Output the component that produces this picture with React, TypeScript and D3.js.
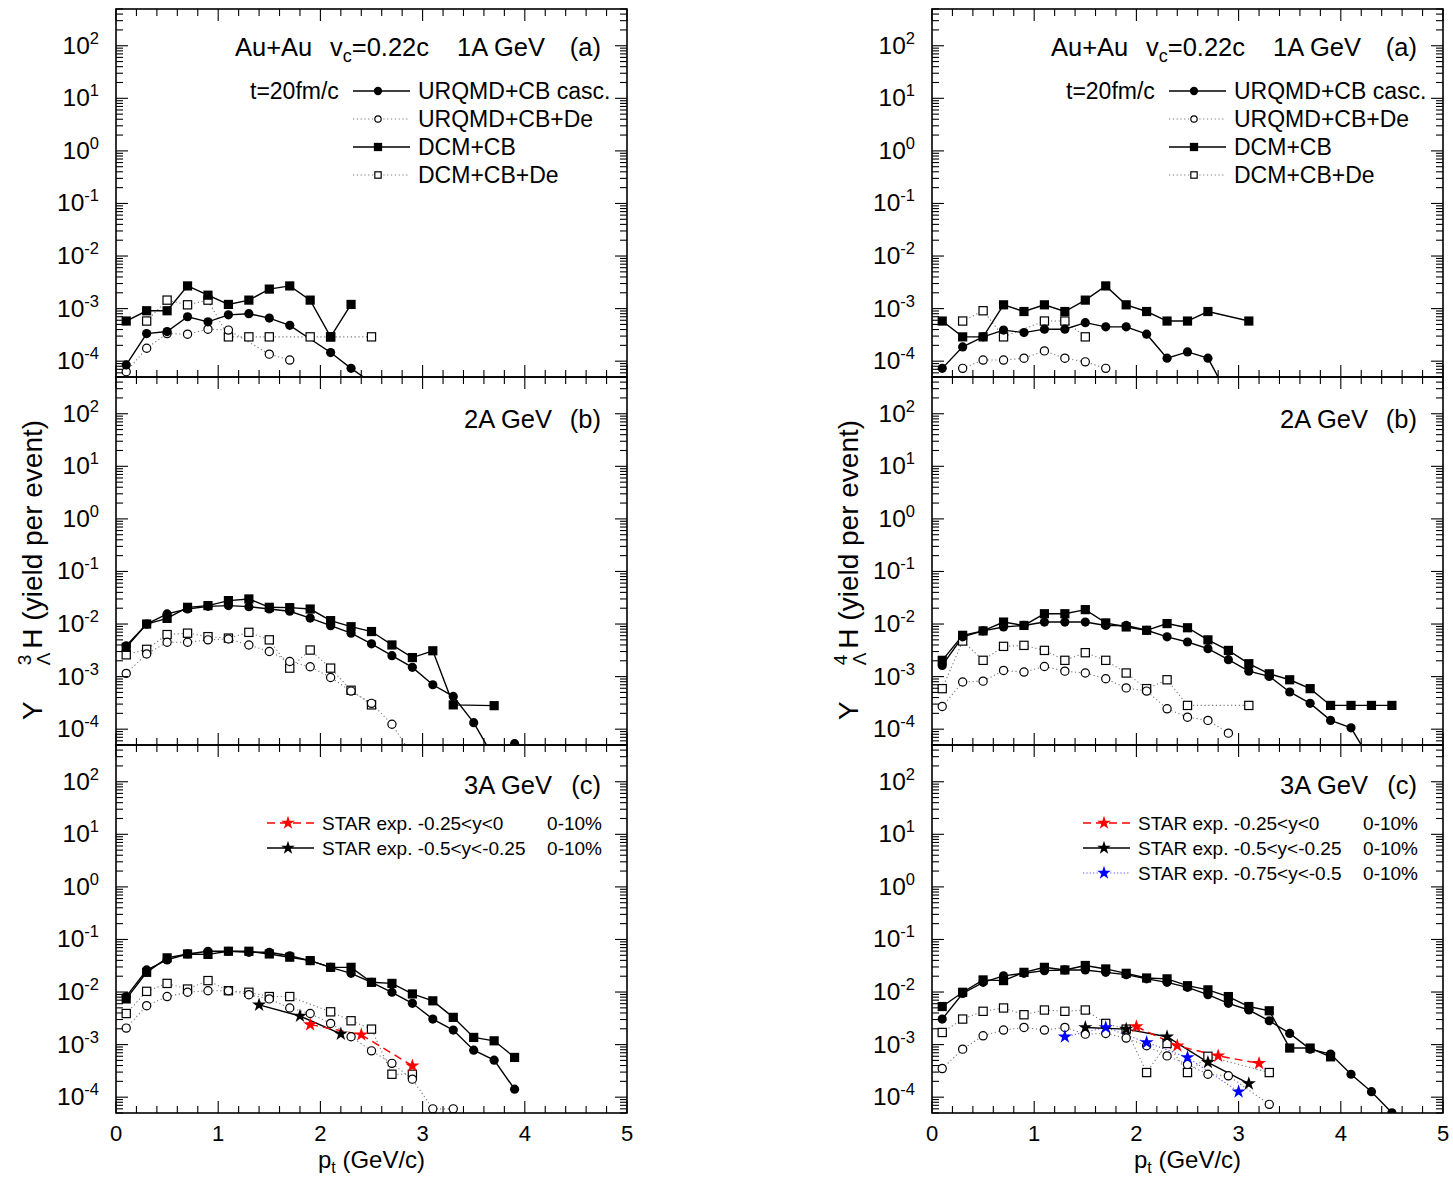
import React from "react";
import * as d3 from "d3";

type Pt = [number, number];

// ---------- 3ΛH (left column) ----------
// 1A GeV
const h3a_urqmd: Pt[] = [[0.1, 8.5e-5], [0.3, 3.35e-4], [0.5, 3.66e-4], [0.7, 7.0e-4], [0.9, 5.6e-4], [1.1, 7.6e-4], [1.3, 8.0e-4], [1.5, 6.6e-4], [1.7, 4.8e-4], [2.1, 1.46e-4], [2.3, 7.3e-5], [2.5, 3.9e-5]];
const h3a_urqmdDe: Pt[] = [[0.1, 6.3e-5], [0.3, 1.76e-4], [0.5, 3.35e-4], [0.7, 3.26e-4], [0.9, 4.06e-4], [1.1, 3.9e-4], [1.5, 1.36e-4], [1.7, 1.05e-4]];
const h3a_dcm: Pt[] = [[0.1, 5.8e-4], [0.3, 9.1e-4], [0.5, 9.1e-4], [0.7, 2.7e-3], [0.9, 1.8e-3], [1.1, 1.2e-3], [1.3, 1.45e-3], [1.5, 2.35e-3], [1.7, 2.7e-3], [1.9, 1.45e-3], [2.1, 2.9e-4], [2.3, 1.2e-3]];
const h3a_dcmDe: Pt[] = [[0.3, 5.8e-4], [0.5, 1.45e-3], [0.7, 1.18e-3], [0.9, 1.45e-3], [1.1, 2.9e-4], [1.3, 2.9e-4], [1.5, 2.9e-4], [1.9, 2.9e-4], [2.1, 2.9e-4], [2.5, 2.9e-4]];
// 2A GeV
const h3b_urqmd: Pt[] = [[0.1, 3.86e-3], [0.3, 1.0e-2], [0.5, 1.56e-2], [0.7, 1.93e-2], [0.9, 2.17e-2], [1.1, 2.24e-2], [1.3, 2.14e-2], [1.5, 1.93e-2], [1.7, 1.75e-2], [1.9, 1.3e-2], [2.1, 9.3e-3], [2.3, 6.7e-3], [2.5, 4.2e-3], [2.7, 2.5e-3], [2.9, 1.5e-3], [3.1, 7.0e-4], [3.3, 4.2e-4], [3.5, 1.33e-4], [3.7, 2.8e-5], [3.9, 5.3e-5]];
const h3b_urqmdDe: Pt[] = [[0.1, 1.15e-3], [0.3, 2.7e-3], [0.5, 4.5e-3], [0.7, 4.5e-3], [0.9, 5.0e-3], [1.1, 5.2e-3], [1.3, 4.0e-3], [1.5, 3.0e-3], [1.7, 1.94e-3], [1.9, 1.54e-3], [2.1, 9.6e-4], [2.3, 5.3e-4], [2.5, 3.1e-4], [2.7, 1.24e-4], [2.9, 3.1e-5]];
const h3b_dcm: Pt[] = [[0.1, 3.6e-3], [0.3, 1.0e-2], [0.5, 1.28e-2], [0.7, 2.08e-2], [0.9, 2.24e-2], [1.1, 2.79e-2], [1.3, 3.0e-2], [1.5, 2.08e-2], [1.7, 2.05e-2], [1.9, 1.93e-2], [2.1, 1.16e-2], [2.3, 8.9e-3], [2.5, 7.2e-3], [2.7, 4.0e-3], [2.9, 2.3e-3], [3.1, 3.1e-3], [3.3, 2.9e-4], [3.7, 2.8e-4]];
const h3b_dcmDe: Pt[] = [[0.1, 2.6e-3], [0.3, 3.3e-3], [0.5, 6.3e-3], [0.7, 6.7e-3], [0.9, 5.75e-3], [1.1, 5.4e-3], [1.3, 6.95e-3], [1.5, 5.0e-3], [1.7, 1.45e-3], [1.9, 3.2e-3], [2.1, 1.45e-3], [2.3, 5.5e-4], [2.5, 2.9e-4]];
// 3A GeV
const h3c_urqmd: Pt[] = [[0.1, 8.2e-3], [0.3, 2.63e-2], [0.5, 4.08e-2], [0.7, 5.3e-2], [0.9, 5.97e-2], [1.1, 5.97e-2], [1.3, 5.7e-2], [1.5, 5.7e-2], [1.7, 4.9e-2], [1.9, 3.96e-2], [2.1, 2.95e-2], [2.3, 2.27e-2], [2.5, 1.53e-2], [2.7, 9.9e-3], [2.9, 6.1e-3], [3.1, 3.06e-3], [3.3, 1.89e-3], [3.5, 7.85e-4], [3.7, 5.06e-4], [3.9, 1.42e-4]];
const h3c_urqmdDe: Pt[] = [[0.1, 2.06e-3], [0.3, 5.5e-3], [0.5, 8.2e-3], [0.7, 9.9e-3], [0.9, 1.06e-2], [1.1, 1.06e-2], [1.3, 8.9e-3], [1.5, 7.4e-3], [1.7, 4.97e-3], [1.9, 3.9e-3], [2.1, 2.53e-3], [2.3, 1.41e-3], [2.5, 7.6e-4], [2.7, 4.4e-4], [2.9, 2.2e-4], [3.1, 6.0e-5], [3.3, 6.0e-5]];
const h3c_dcm: Pt[] = [[0.1, 7.4e-3], [0.3, 2.37e-2], [0.5, 4.47e-2], [0.7, 5.3e-2], [0.9, 5.2e-2], [1.1, 5.97e-2], [1.3, 5.97e-2], [1.5, 5.3e-2], [1.7, 4.6e-2], [1.9, 3.96e-2], [2.1, 2.95e-2], [2.3, 2.95e-2], [2.5, 1.53e-2], [2.7, 1.46e-2], [2.9, 9.2e-3], [3.1, 6.8e-3], [3.3, 3.3e-3], [3.5, 1.37e-3], [3.7, 1.18e-3], [3.9, 5.7e-4]];
const h3c_dcmDe: Pt[] = [[0.1, 3.9e-3], [0.3, 1.03e-2], [0.5, 1.46e-2], [0.7, 1.14e-2], [0.9, 1.65e-2], [1.1, 1.06e-2], [1.3, 9.9e-3], [1.5, 8.2e-3], [1.7, 8.2e-3], [2.1, 4.2e-3], [2.3, 2.84e-3], [2.5, 1.97e-3], [2.7, 2.73e-4], [2.9, 2.73e-4]];
const h3c_starMid: Pt[] = [[1.9, 2.4e-3], [2.4, 1.54e-3], [2.9, 3.95e-4]];
const h3c_starBack: Pt[] = [[1.4, 5.7e-3], [1.8, 3.5e-3], [2.2, 1.6e-3]];

// ---------- 4ΛH (right column) ----------
// 1A GeV
const h4a_urqmd: Pt[] = [[0.1, 7.3e-5], [0.3, 1.87e-4], [0.5, 2.9e-4], [0.7, 3.9e-4], [0.9, 3.5e-4], [1.1, 4.06e-4], [1.3, 4.06e-4], [1.5, 5.4e-4], [1.7, 4.5e-4], [1.9, 4.5e-4], [2.1, 3.26e-4], [2.3, 1.14e-4], [2.5, 1.5e-4], [2.7, 1.14e-4], [2.9, 2.2e-5]];
const h4a_urqmdDe: Pt[] = [[0.3, 7.3e-5], [0.5, 1.05e-4], [0.7, 1.05e-4], [0.9, 1.14e-4], [1.1, 1.57e-4], [1.3, 1.14e-4], [1.5, 9.7e-5], [1.7, 7.3e-5]];
const h4a_dcm: Pt[] = [[0.1, 5.8e-4], [0.3, 2.9e-4], [0.5, 2.9e-4], [0.7, 1.18e-3], [0.9, 8.8e-4], [1.1, 1.18e-3], [1.3, 8.8e-4], [1.5, 1.45e-3], [1.7, 2.7e-3], [1.9, 1.18e-3], [2.1, 8.8e-4], [2.3, 5.8e-4], [2.5, 5.8e-4], [2.7, 8.8e-4], [3.1, 5.8e-4]];
const h4a_dcmDe: Pt[] = [[0.3, 5.8e-4], [0.5, 9.1e-4], [0.7, 2.9e-4], [1.1, 5.8e-4], [1.3, 5.8e-4], [1.5, 2.9e-4]];
// 2A GeV
const h4b_urqmd: Pt[] = [[0.1, 1.63e-3], [0.3, 5.7e-3], [0.5, 7.4e-3], [0.7, 8.8e-3], [0.9, 9.4e-3], [1.1, 1.09e-2], [1.3, 1.09e-2], [1.5, 1.09e-2], [1.7, 9.4e-3], [1.9, 9.4e-3], [2.1, 7.6e-3], [2.3, 5.7e-3], [2.5, 4.55e-3], [2.7, 3.4e-3], [2.9, 2.1e-3], [3.1, 1.27e-3], [3.3, 1.01e-3], [3.5, 5.1e-4], [3.7, 3.1e-4], [3.9, 1.47e-4], [4.1, 1.06e-4], [4.3, 2.4e-5]];
const h4b_urqmdDe: Pt[] = [[0.1, 2.7e-4], [0.3, 7.9e-4], [0.5, 8.2e-4], [0.7, 1.31e-3], [0.9, 1.22e-3], [1.1, 1.56e-3], [1.3, 1.27e-3], [1.5, 1.17e-3], [1.7, 9.1e-4], [1.9, 6.1e-4], [2.1, 5.3e-4], [2.3, 2.44e-4], [2.5, 1.69e-4], [2.7, 1.47e-4], [2.9, 8.4e-5]];
const h4b_dcm: Pt[] = [[0.1, 2.04e-3], [0.3, 6.1e-3], [0.5, 7.4e-3], [0.7, 1.09e-2], [0.9, 9.4e-3], [1.1, 1.57e-2], [1.3, 1.57e-2], [1.5, 1.88e-2], [1.7, 1.05e-2], [1.9, 8.8e-3], [2.1, 7.6e-3], [2.3, 1.02e-2], [2.5, 8.5e-3], [2.7, 5.0e-3], [2.9, 3.15e-3], [3.1, 1.76e-3], [3.3, 1.13e-3], [3.5, 8.7e-4], [3.7, 5.9e-4], [3.9, 2.83e-4], [4.1, 2.83e-4], [4.3, 2.83e-4], [4.5, 2.83e-4]];
const h4b_dcmDe: Pt[] = [[0.1, 5.9e-4], [0.3, 4.75e-3], [0.5, 2.04e-3], [0.7, 3.76e-3], [0.9, 3.93e-3], [1.1, 3.15e-3], [1.3, 2.04e-3], [1.5, 2.85e-3], [1.7, 2.04e-3], [1.9, 1.17e-3], [2.1, 5.9e-4], [2.3, 8.7e-4], [2.5, 2.83e-4], [3.1, 2.83e-4]];
// 3A GeV
const h4c_urqmd: Pt[] = [[0.1, 3.06e-3], [0.3, 9.4e-3], [0.5, 1.53e-2], [0.7, 2.03e-2], [0.9, 2.27e-2], [1.1, 2.55e-2], [1.3, 2.63e-2], [1.5, 2.63e-2], [1.7, 2.37e-2], [1.9, 2.14e-2], [2.1, 1.78e-2], [2.3, 1.53e-2], [2.5, 1.23e-2], [2.7, 8.9e-3], [2.9, 6.1e-3], [3.1, 4.55e-3], [3.3, 2.84e-3], [3.5, 1.63e-3], [3.7, 8.2e-4], [3.9, 6.6e-4], [4.1, 2.73e-4], [4.3, 1.27e-4], [4.5, 5.06e-5]];
const h4c_urqmdDe: Pt[] = [[0.1, 3.5e-4], [0.3, 8.2e-4], [0.5, 1.47e-3], [0.7, 1.89e-3], [0.9, 2.12e-3], [1.1, 1.89e-3], [1.3, 2.12e-3], [1.5, 1.58e-3], [1.7, 1.63e-3], [1.9, 1.33e-3], [2.1, 9.5e-4], [2.3, 6.1e-4], [2.5, 4.2e-4], [2.7, 2.73e-4], [2.9, 2.55e-4], [3.3, 7.3e-5]];
const h4c_dcm: Pt[] = [[0.1, 5.3e-3], [0.3, 9.9e-3], [0.5, 1.7e-2], [0.7, 1.65e-2], [0.9, 2.37e-2], [1.1, 2.95e-2], [1.3, 2.63e-2], [1.5, 3.2e-2], [1.7, 2.75e-2], [1.9, 2.27e-2], [2.1, 1.85e-2], [2.3, 1.78e-2], [2.5, 1.32e-2], [2.7, 1.1e-2], [2.9, 8.2e-3], [3.1, 5.3e-3], [3.3, 4.4e-3], [3.5, 8.6e-4], [3.7, 8.6e-4], [3.9, 5.85e-4]];
const h4c_dcmDe: Pt[] = [[0.1, 1.7e-3], [0.3, 3.06e-3], [0.5, 4.3e-3], [0.7, 4.97e-3], [0.9, 3.7e-3], [1.1, 4.55e-3], [1.3, 4.3e-3], [1.5, 4.55e-3], [1.7, 2.53e-3], [1.9, 1.97e-3], [2.1, 2.94e-4], [2.3, 1.05e-3], [2.5, 2.94e-4], [2.7, 6.0e-4], [3.3, 2.94e-4]];
const h4c_starMid: Pt[] = [[2.0, 2.2e-3], [2.4, 9.5e-4], [2.8, 6.1e-4], [3.2, 4.4e-4]];
const h4c_starBack: Pt[] = [[1.5, 2.12e-3], [1.9, 1.97e-3], [2.3, 1.41e-3], [2.7, 4.6e-4], [3.1, 1.81e-4]];
const h4c_starFar: Pt[] = [[1.3, 1.41e-3], [1.7, 2.12e-3], [2.1, 1.1e-3], [2.5, 5.7e-4], [3.0, 1.27e-4]];

// ---------- labels ----------
const modelLabels = ["URQMD+CB casc.", "URQMD+CB+De", "DCM+CB", "DCM+CB+De"];
const starLabels = ["STAR exp. -0.25<y<0", "STAR exp. -0.5<y<-0.25", "STAR exp. -0.75<y<-0.5"];
const centrality = "0-10%";
const energyLabels = ["1A GeV", "2A GeV", "3A GeV"];
const panelTags = ["(a)", "(b)", "(c)"];
const xTicks = [0, 1, 2, 3, 4, 5];
const yDecades = [-4, -3, -2, -1, 0, 1, 2];

// ---------- layout ----------
const FONT = "'Liberation Sans', Arial, Helvetica, sans-serif";
const COL_X = [116, 932];
const ROW_TOP = [9, 377, 745];
const PW = 511;
const PH = 368;

type Kind = "fcircle" | "ocircle" | "fsquare" | "osquare" | "star";
type LineStyle = "solid" | "dotted" | "dashed" | "bluedot";

interface Series {
  data: Pt[];
  kind: Kind;
  line: LineStyle;
  color?: string;
}

const STYLE: Record<LineStyle, { stroke: string; width: number; dash?: string }> = {
  solid: { stroke: "#000", width: 1.4 },
  dotted: { stroke: "#777", width: 1.1, dash: "1.2 2.6" },
  dashed: { stroke: "#f00", width: 1.4, dash: "8 5" },
  bluedot: { stroke: "#55f", width: 1.1, dash: "1.2 2.2" },
};

const starPath = d3.symbol().type(d3.symbolStar).size(62)() as string;
const starPathSmall = d3.symbol().type(d3.symbolStar).size(58)() as string;

function Marker({ kind, x, y, color = "#000", scale = 1 }: { kind: Kind; x: number; y: number; color?: string; scale?: number }) {
  const r = 4.6 * scale;
  switch (kind) {
    case "fcircle":
      return <circle cx={x} cy={y} r={r} fill="#000" />;
    case "ocircle":
      return <circle cx={x} cy={y} r={r - 0.5} fill="#fff" stroke="#000" strokeWidth={1.2} />;
    case "fsquare":
      return <rect x={x - r} y={y - r} width={2 * r} height={2 * r} fill="#000" />;
    case "osquare":
      return <rect x={x - r + 0.5} y={y - r + 0.5} width={2 * r - 1} height={2 * r - 1} fill="#fff" stroke="#000" strokeWidth={1.2} />;
    case "star":
      return <path d={scale < 1 ? starPathSmall : starPath} transform={`translate(${x},${y})`} fill={color} />;
  }
}

function Panel({ col, row, series, children }: { col: number; row: number; series: Series[]; children?: React.ReactNode }) {
  const x0 = COL_X[col];
  const top = ROW_TOP[row];
  const xs = d3.scaleLinear().domain([0, 5]).range([x0, x0 + PW]);
  const ys = d3.scaleLog().domain([5e-5, 500]).range([top + PH, top]);
  const line = d3.line<Pt>().x((d) => xs(d[0])).y((d) => ys(d[1]));
  const clipId = `clip-${col}-${row}`;

  const majorY = yDecades.map((d) => Math.pow(10, d));
  const minorY: number[] = [];
  for (let d = -5; d <= 2; d++) {
    for (let m = 2; m <= 9; m++) {
      const v = m * Math.pow(10, d);
      if (v >= 5e-5 && v <= 500) minorY.push(v);
    }
  }
  const xMinor = d3.range(0, 5.001, 0.2).filter((v) => Math.abs(v - Math.round(v)) > 1e-6);
  const MAJ = 12;
  const MIN = 7;
  const L = x0;
  const R = x0 + PW;
  const B = top + PH;
  const headY = top + (row === 0 ? 47 : row === 1 ? 51 : 49);

  return (
    <g>
      <defs>
        <clipPath id={clipId}>
          <rect x={L} y={top} width={PW} height={PH} />
        </clipPath>
      </defs>
      <g clipPath={`url(#${clipId})`}>
        {series.map((s, i) => {
          const st = STYLE[s.line];
          return (
            <path key={`l${i}`} d={line(s.data) || ""} fill="none" stroke={st.stroke} strokeWidth={st.width} strokeDasharray={st.dash} />
          );
        })}
        {series.map((s, i) => (
          <g key={`m${i}`}>
            {s.data.map((d, j) => (
              <Marker key={j} kind={s.kind} x={xs(d[0])} y={ys(d[1])} color={s.color} />
            ))}
          </g>
        ))}
      </g>
      {/* ticks on all four sides, pointing inward */}
      <g stroke="#000" strokeWidth={1.1}>
        {majorY.map((v, i) => (
          <g key={`ym${i}`}>
            <line x1={L} x2={L + MAJ} y1={ys(v)} y2={ys(v)} />
            <line x1={R} x2={R - MAJ} y1={ys(v)} y2={ys(v)} />
          </g>
        ))}
        {minorY.map((v, i) => (
          <g key={`yn${i}`}>
            <line x1={L} x2={L + MIN} y1={ys(v)} y2={ys(v)} />
            <line x1={R} x2={R - MIN} y1={ys(v)} y2={ys(v)} />
          </g>
        ))}
        {xTicks.map((v) => (
          <g key={`xm${v}`}>
            <line x1={xs(v)} x2={xs(v)} y1={B} y2={B - MAJ} />
            <line x1={xs(v)} x2={xs(v)} y1={top} y2={top + MAJ} />
          </g>
        ))}
        {xMinor.map((v, i) => (
          <g key={`xn${i}`}>
            <line x1={xs(v)} x2={xs(v)} y1={B} y2={B - MIN} />
            <line x1={xs(v)} x2={xs(v)} y1={top} y2={top + MIN} />
          </g>
        ))}
      </g>
      <rect x={L} y={top} width={PW} height={PH} fill="none" stroke="#000" strokeWidth={1.6} />
      {/* y tick labels */}
      {yDecades.map((d) => (
        <text key={`yl${d}`} x={L - 17} y={ys(Math.pow(10, d)) + 8} textAnchor="end" fontSize={24.5} fontFamily={FONT} fill="#000">
          10<tspan dy={-10} fontSize={16.5}>{d}</tspan>
        </text>
      ))}
      {/* header */}
      <text x={R - 26} y={headY} textAnchor="end" fontSize={25.5} fontFamily={FONT}>
        {panelTags[row]}
      </text>
      <text x={R - (row === 0 ? 82 : 75)} y={headY} textAnchor="end" fontSize={25.5} fontFamily={FONT}>
        {energyLabels[row]}
      </text>
      {children}
    </g>
  );
}

function ModelLegend({ x0 }: { x0: number }) {
  const rows: { kind: Kind; line: LineStyle }[] = [
    { kind: "fcircle", line: "solid" },
    { kind: "ocircle", line: "dotted" },
    { kind: "fsquare", line: "solid" },
    { kind: "osquare", line: "dotted" },
  ];
  const lx1 = x0 + 237;
  const lx2 = x0 + 294;
  const mx = x0 + 262;
  const tx = x0 + 302;
  return (
    <g fontFamily={FONT} fontSize={23}>
      <text x={x0 + 119} y={56} fontSize={25.5}>Au+Au</text>
      <text x={x0 + 214} y={56} fontSize={25.5}>
        v<tspan dy={6} fontSize={18}>c</tspan>
        <tspan dy={-6}>=0.22c</tspan>
      </text>
      <text x={x0 + 134} y={99}>t=20fm/c</text>
      {rows.map((r, i) => {
        const y = 91 + i * 28;
        const st = STYLE[r.line];
        return (
          <g key={i}>
            <line x1={lx1} x2={lx2} y1={y} y2={y} stroke={st.stroke} strokeWidth={st.width} strokeDasharray={st.dash} />
            <Marker kind={r.kind} x={mx} y={y} scale={r.kind === "ocircle" || r.kind === "osquare" ? 0.8 : 0.9} />
            <text x={tx} y={y + 8}>{modelLabels[i]}</text>
          </g>
        );
      })}
    </g>
  );
}

function StarLegend({ x0, n }: { x0: number; n: number }) {
  const styles: { line: LineStyle; color: string }[] = [
    { line: "dashed", color: "#f00" },
    { line: "solid", color: "#000" },
    { line: "bluedot", color: "#00f" },
  ];
  return (
    <g fontFamily={FONT} fontSize={19}>
      {styles.slice(0, n).map((s, i) => {
        const y = 823 + i * 25;
        const st = STYLE[s.line];
        return (
          <g key={i}>
            <line x1={x0 + 151} x2={x0 + 198} y1={y} y2={y} stroke={st.stroke} strokeWidth={st.width} strokeDasharray={st.dash} />
            <Marker kind="star" x={x0 + 172} y={y} color={s.color} scale={0.9} />
            <text x={x0 + 206} y={y + 7}>{starLabels[i]}</text>
            <text x={x0 + 486} y={y + 7} textAnchor="end">{centrality}</text>
          </g>
        );
      })}
    </g>
  );
}

function YTitle({ x, nucleon }: { x: number; nucleon: string }) {
  return (
    <text transform={`translate(${x},720) rotate(-90)`} fontFamily={FONT} fontSize={28}>
      Y
      <tspan dx={36} dy={-11} fontSize={19}>{nucleon}</tspan>
      <tspan dx={-10.6} dy={19} fontSize={19}>Λ</tspan>
      <tspan dx={4} dy={-8}>H (yield per event)</tspan>
    </text>
  );
}

function XTitle({ cx }: { cx: number }) {
  return (
    <text x={cx} y={1168} textAnchor="middle" fontFamily={FONT} fontSize={24}>
      p<tspan dy={5} fontSize={16}>t</tspan>
      <tspan dy={-5}> (GeV/c)</tspan>
    </text>
  );
}

const mk = (data: Pt[], kind: Kind, line: LineStyle, color?: string): Series => ({ data, kind, line, color });

const columns: Series[][][] = [
  [
    [mk(h3a_dcmDe, "osquare", "dotted"), mk(h3a_urqmdDe, "ocircle", "dotted"), mk(h3a_dcm, "fsquare", "solid"), mk(h3a_urqmd, "fcircle", "solid")],
    [mk(h3b_dcmDe, "osquare", "dotted"), mk(h3b_urqmdDe, "ocircle", "dotted"), mk(h3b_dcm, "fsquare", "solid"), mk(h3b_urqmd, "fcircle", "solid")],
    [
      mk(h3c_dcmDe, "osquare", "dotted"), mk(h3c_urqmdDe, "ocircle", "dotted"), mk(h3c_dcm, "fsquare", "solid"), mk(h3c_urqmd, "fcircle", "solid"),
      mk(h3c_starBack, "star", "solid", "#000"), mk(h3c_starMid, "star", "dashed", "#f00"),
    ],
  ],
  [
    [mk(h4a_dcmDe, "osquare", "dotted"), mk(h4a_urqmdDe, "ocircle", "dotted"), mk(h4a_dcm, "fsquare", "solid"), mk(h4a_urqmd, "fcircle", "solid")],
    [mk(h4b_dcmDe, "osquare", "dotted"), mk(h4b_urqmdDe, "ocircle", "dotted"), mk(h4b_dcm, "fsquare", "solid"), mk(h4b_urqmd, "fcircle", "solid")],
    [
      mk(h4c_dcmDe, "osquare", "dotted"), mk(h4c_urqmdDe, "ocircle", "dotted"), mk(h4c_dcm, "fsquare", "solid"), mk(h4c_urqmd, "fcircle", "solid"),
      mk(h4c_starFar, "star", "bluedot", "#00f"), mk(h4c_starBack, "star", "solid", "#000"), mk(h4c_starMid, "star", "dashed", "#f00"),
    ],
  ],
];

export default function App() {
  return (
    <svg width={1453} height={1180} style={{ position: "absolute", left: 0, top: 0, background: "#fff" }}>
      <rect width={1453} height={1180} fill="#fff" />
      {columns.map((rows, c) => (
        <g key={c}>
          {rows.map((series, r) => (
            <Panel key={r} col={c} row={r} series={series} />
          ))}
          <ModelLegend x0={COL_X[c]} />
          <StarLegend x0={COL_X[c]} n={c === 0 ? 2 : 3} />
          {xTicks.map((v) => (
            <text key={v} x={COL_X[c] + (v / 5) * PW} y={1141} textAnchor="middle" fontFamily={FONT} fontSize={22}>
              {v}
            </text>
          ))}
          <XTitle cx={COL_X[c] + PW / 2} />
          <YTitle x={c === 0 ? 42 : 858} nucleon={c === 0 ? "3" : "4"} />
        </g>
      ))}
    </svg>
  );
}
